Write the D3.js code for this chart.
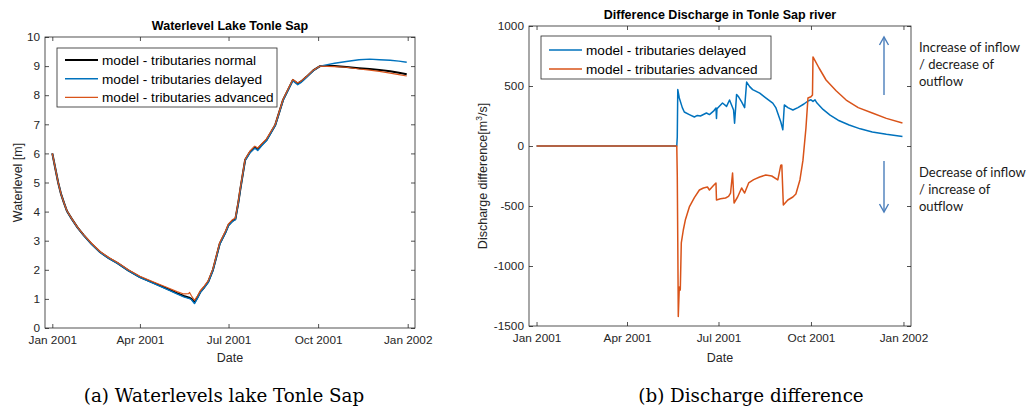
<!DOCTYPE html>
<html>
<head>
<meta charset="utf-8">
<script src="https://cdn.jsdelivr.net/npm/d3@7"></script>
<style>
    body { margin: 0; background: #fff; }
    svg { display: block; font-family: "Liberation Sans", Arial, sans-serif; }
</style>
</head>
<body>
<div id="chart"></div>
<script>
// days are counted from 1 Jan 2001
const xTickLabels = ["Jan 2001", "Apr 2001", "Jul 2001", "Oct 2001", "Jan 2002"];

// --- (a) waterlevel lake Tonle Sap [m]
const levelDays = [0, 3, 6, 9, 12, 15, 20, 26, 32, 40, 49, 58, 67, 78, 90, 104, 118, 128, 135,
    140, 141, 143, 146, 149, 152, 156, 160, 165, 172, 178, 181, 185,
    188, 191, 193, 198, 203, 208, 211, 215, 220, 229, 237, 247, 252, 256, 261, 268, 275, 290, 302, 315, 326, 336, 347, 356, 364];
const levelNormal = [6.0, 5.5, 5.0, 4.6, 4.3, 4.02, 3.75, 3.45, 3.2, 2.9, 2.61, 2.4, 2.23, 1.98, 1.75, 1.55, 1.35, 1.2, 1.1,
    1.05, 1.04, 1.0, 0.88, 1.05, 1.24, 1.4, 1.58, 2.0, 2.9, 3.3, 3.54, 3.68,
    3.74, 4.3, 4.75, 5.77, 6.05, 6.22, 6.15, 6.3, 6.46, 6.98, 7.84, 8.52, 8.4, 8.48, 8.63, 8.85, 9.0, 9.0, 8.97, 8.93, 8.9, 8.87, 8.82, 8.77, 8.72];
const levelDelayed = [6.0, 5.5, 5.0, 4.6, 4.3, 4.02, 3.74, 3.44, 3.19, 2.89, 2.6, 2.39, 2.22, 1.97, 1.74, 1.53, 1.33, 1.17, 1.07,
    1.02, 1.01, 0.97, 0.84, 1.02, 1.22, 1.38, 1.56, 1.98, 2.88, 3.28, 3.52, 3.66,
    3.72, 4.28, 4.73, 5.75, 6.02, 6.18, 6.1, 6.26, 6.44, 6.96, 7.82, 8.5, 8.36, 8.45, 8.61, 8.84, 9.0, 9.1, 9.16, 9.22, 9.24, 9.22, 9.2, 9.17, 9.13];
const levelAdvanced = [6.0, 5.5, 5.0, 4.6, 4.3, 4.03, 3.76, 3.46, 3.21, 2.92, 2.63, 2.42, 2.25, 2.0, 1.78, 1.58, 1.39, 1.25, 1.17,
    1.18, 1.22, 1.1, 0.95, 1.1, 1.28, 1.44, 1.62, 2.04, 2.94, 3.34, 3.58, 3.72,
    3.78, 4.34, 4.8, 5.8, 6.08, 6.25, 6.18, 6.33, 6.5, 7.0, 7.86, 8.54, 8.42, 8.5, 8.64, 8.86, 9.0, 8.98, 8.96, 8.9, 8.86, 8.82, 8.76, 8.71, 8.66];

// --- (b) discharge difference [m3/s]
const delayedDays = [0, 139.5, 140, 140.5, 142, 145, 147, 152, 157, 160, 163, 169, 172, 176, 178.5, 179, 179.5, 185, 189, 192, 196, 197,
    199, 201, 204, 207, 209, 212, 215, 222, 229, 235, 238, 243, 245, 246.5, 250, 255, 260, 266, 270, 273, 275, 277, 279, 285, 292, 300,
    311, 322, 334, 348, 364];
const delayedDiff = [0, 0, 75, 470, 400, 320, 283, 262, 242, 255, 250, 275, 262, 290, 317, 230, 310, 358, 330, 383, 300, 190,
    430, 410, 367, 320, 533, 495, 470, 440, 395, 358, 320, 200, 135, 342, 320, 300, 320, 350, 375, 385, 372, 385, 358, 305, 258, 215,
    175, 143, 117, 97, 80];
const advancedDays = [0, 139.5, 140, 140.5, 141, 142, 143, 144, 146, 148, 152, 157, 162, 166, 170, 172, 176, 178.5, 179, 183, 188, 191,
    193, 195, 196.5, 200, 204, 207, 211, 216, 222, 228, 234, 240, 243, 244, 245.5, 250, 255, 258, 262, 265, 268, 270, 273, 274.5, 275,
    281, 288, 298, 308, 320, 334, 348, 364];
const advancedDiff = [0, 0, -250, -800, -1420, -1175, -1200, -808, -700, -617, -508, -430, -367, -350, -342, -367, -330, -308, -450, -440, -433, -420,
    -392, -225, -475, -425, -350, -392, -308, -280, -258, -242, -250, -283, -160, -158, -492, -450, -425, -400, -283, -120, 150, 400, 410, 425, 742,
    650, 550, 460, 383, 320, 275, 230, 192];

const colors = { normal: "#000000", delayed: "#0072BD", advanced: "#D95319" };
const axisColor = "#262626";
const t0 = Date.UTC(2001, 0, 1);
const toDate = d => new Date(t0 + d * 864e5);

const svg = d3.select("#chart").append("svg")
    .attr("width", 1030)
    .attr("height", 408);

function drawAxes(opt) {
    const x = d3.scaleUtc()
        .domain([toDate(-7.5), toDate(372.5)])
        .range([opt.left, opt.right]);
    const y = d3.scaleLinear()
        .domain(opt.yDomain)
        .range([opt.bottom, opt.top]);

    const g = svg.append("g");
    const xTicks = d3.range(5).map(i => new Date(Date.UTC(2001, i * 3, 1)));
    const fmt = (d, i) => xTickLabels[i];

    // axes, MATLAB style inward ticks on every side
    const bottom = g.append("g").attr("transform", `translate(0,${opt.bottom})`)
        .call(d3.axisBottom(x).tickValues(xTicks).tickFormat(fmt).tickSizeInner(-4).tickSizeOuter(0).tickPadding(8));
    const top = g.append("g").attr("transform", `translate(0,${opt.top})`)
        .call(d3.axisTop(x).tickValues(xTicks).tickFormat("").tickSizeInner(-4).tickSizeOuter(0));
    const left = g.append("g").attr("transform", `translate(${opt.left},0)`)
        .call(d3.axisLeft(y).tickValues(opt.yTicks).tickFormat(d => String(d)).tickSizeInner(-4).tickSizeOuter(0).tickPadding(5));
    const right = g.append("g").attr("transform", `translate(${opt.right},0)`)
        .call(d3.axisRight(y).tickValues(opt.yTicks).tickFormat("").tickSizeInner(-4).tickSizeOuter(0));

    [bottom, top, left, right].forEach(a => {
        a.select(".domain").remove();
        a.selectAll(".tick line").attr("stroke", axisColor).attr("stroke-width", 0.8);
        a.selectAll(".tick text").attr("fill", axisColor).style("font-size", "11.8px")
            .style("font-family", "Liberation Sans, Arial, sans-serif");
    });

    // lines
    const line = d3.line()
        .x(d => x(toDate(d[0])))
        .y(d => y(d[1]));
    opt.series.forEach(s => {
        g.append("path")
            .datum(s.days.map((d, i) => [d, s.values[i]]))
            .attr("fill", "none")
            .attr("stroke", s.color)
            .attr("stroke-width", s.width)
            .attr("stroke-linejoin", "round")
            .attr("d", line);
    });

    g.append("rect")
        .attr("x", opt.left).attr("y", opt.top)
        .attr("width", opt.right - opt.left).attr("height", opt.bottom - opt.top)
        .attr("fill", "none").attr("stroke", axisColor).attr("stroke-width", 0.8);

    // title + labels
    const cx = (opt.left + opt.right) / 2;
    g.append("text").attr("x", cx).attr("y", opt.titleY)
        .attr("text-anchor", "middle").style("font-size", "12.5px").style("font-weight", "bold")
        .text(opt.title);
    g.append("text").attr("x", cx).attr("y", 362)
        .attr("text-anchor", "middle").attr("fill", axisColor).style("font-size", "12.5px")
        .text("Date");
    const yl = g.append("text")
        .attr("transform", `translate(${opt.yLabelX},${(opt.top + opt.bottom) / 2}) rotate(-90)`)
        .attr("text-anchor", "middle").attr("fill", axisColor).style("font-size", "12.5px");
    opt.yLabel(yl);

    // legend
    const lg = g.append("g");
    lg.append("rect")
        .attr("x", opt.legend.x).attr("y", opt.legend.y)
        .attr("width", opt.legend.w).attr("height", opt.legend.h)
        .attr("fill", "#fff").attr("stroke", axisColor).attr("stroke-width", 0.8);
    opt.series.forEach((s, i) => {
        const ly = opt.legend.y + opt.legend.first + i * opt.legend.step;
        lg.append("line")
            .attr("x1", opt.legend.x + 8).attr("x2", opt.legend.x + 41)
            .attr("y1", ly).attr("y2", ly)
            .attr("stroke", s.color).attr("stroke-width", s.width);
        lg.append("text")
            .attr("x", opt.legend.x + 45).attr("y", ly + 4.8)
            .style("font-size", "13.6px")
            .text(s.label);
    });
    return { x, y };
}

drawAxes({
    left: 45, right: 415, top: 37, bottom: 328,
    yDomain: [0, 10], yTicks: d3.range(0, 11),
    title: "Waterlevel Lake Tonle Sap", titleY: 30,
    yLabelX: 22,
    yLabel: t => t.text("Waterlevel [m]"),
    legend: { x: 57, y: 48, w: 220, h: 59, first: 12, step: 18.7 },
    series: [
        { label: "model - tributaries normal", days: levelDays, values: levelNormal, color: colors.normal, width: 2 },
        { label: "model - tributaries delayed", days: levelDays, values: levelDelayed, color: colors.delayed, width: 1.4 },
        { label: "model - tributaries advanced", days: levelDays, values: levelAdvanced, color: colors.advanced, width: 1.2 }
    ]
});

drawAxes({
    left: 529, right: 911, top: 26, bottom: 326,
    yDomain: [-1500, 1000], yTicks: d3.range(-1500, 1001, 500),
    title: "Difference Discharge in Tonle Sap river", titleY: 19,
    yLabelX: 487,
    yLabel: t => {
        t.append("tspan").text("Discharge difference[m");
        t.append("tspan").attr("dy", -5).style("font-size", "8.5px").text("3");
        t.append("tspan").attr("dy", 5).text("/s]");
    },
    legend: { x: 541, y: 36, w: 230, h: 43, first: 14, step: 19 },
    series: [
        { label: "model - tributaries delayed", days: delayedDays, values: delayedDiff, color: colors.delayed, width: 1.5 },
        { label: "model - tributaries advanced", days: advancedDays, values: advancedDiff, color: colors.advanced, width: 1.5 }
    ]
});

// annotation arrows and notes
const arrowColor = "#4A7EBB";
const ax = 884;
function arrow(y1, y2) {
    const dir = y2 < y1 ? 1 : -1;
    svg.append("line").attr("x1", ax).attr("x2", ax).attr("y1", y1).attr("y2", y2)
        .attr("stroke", arrowColor).attr("stroke-width", 1.4);
    svg.append("path")
        .attr("d", `M${ax - 4.5},${y2 + dir * 8} L${ax},${y2} L${ax + 4.5},${y2 + dir * 8}`)
        .attr("fill", "none").attr("stroke", arrowColor).attr("stroke-width", 1.4);
}
arrow(95, 37);
arrow(161, 212);

const notes = [
    { y: 52, lines: ["Increase of inflow", "/ decrease of", "outflow"] },
    { y: 177, lines: ["Decrease of inflow", "/ increase of", "outflow"] }
];
notes.forEach(n => {
    const t = svg.append("text").attr("x", 919).attr("y", n.y)
        .style("font-family", "Lato, sans-serif").style("font-size", "13px").attr("fill", "#1a1a1a");
    n.lines.forEach((l, i) => t.append("tspan").attr("x", 919).attr("dy", i ? 17 : 0).text(l));
});

// sub captions
const captions = [
    { x: 224, text: "(a) Waterlevels lake Tonle Sap" },
    { x: 751, text: "(b) Discharge difference" }
];
captions.forEach(c => {
    svg.append("text").attr("x", c.x).attr("y", 402)
        .attr("text-anchor", "middle")
        .style("font-family", "DejaVu Serif, serif").style("font-size", "18.3px")
        .text(c.text);
});
</script>
</body>
</html>
